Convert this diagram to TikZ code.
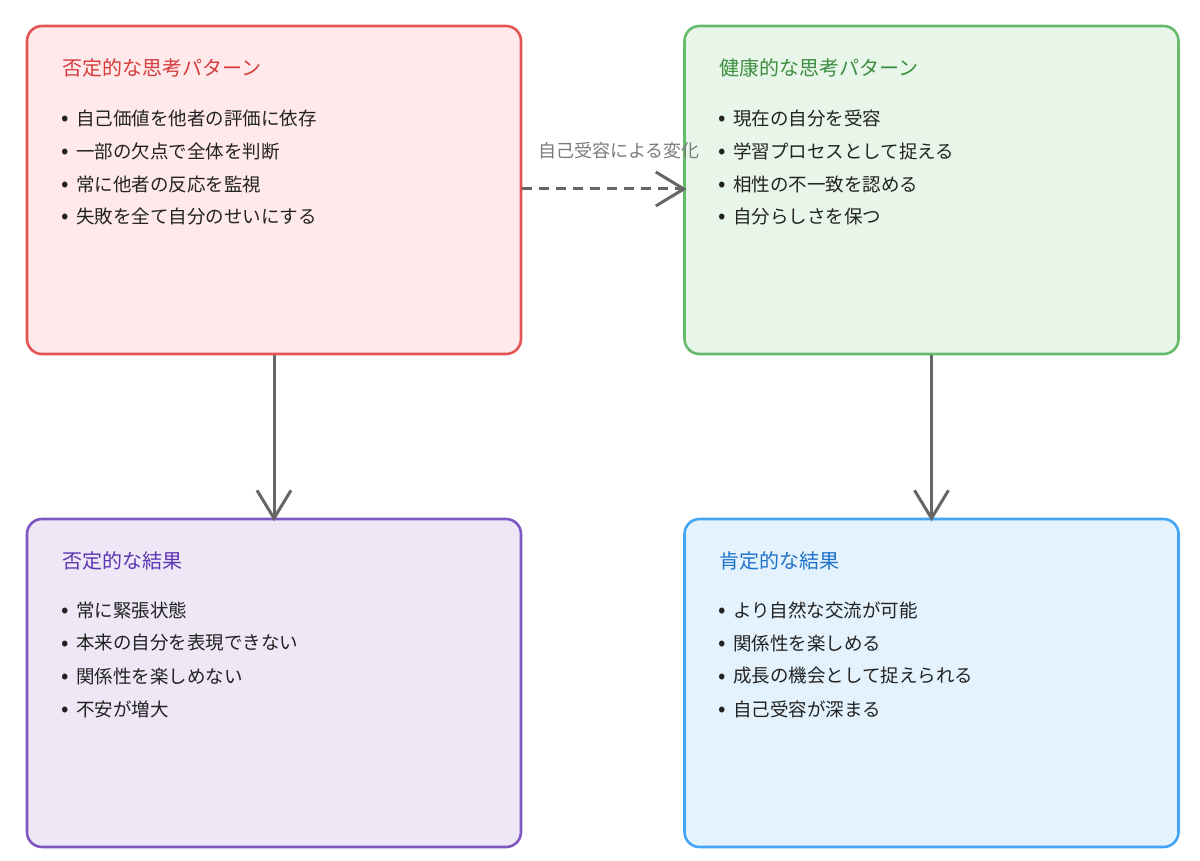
\documentclass[tikz,border=0pt]{standalone}
\usepackage{fontspec}
\setmainfont{Noto Sans CJK JP}
\usetikzlibrary{arrows.meta}
\definecolor{rB}{HTML}{E35555}\definecolor{rF}{HTML}{FFE9EB}\definecolor{rT}{HTML}{D63C3C}
\definecolor{gB}{HTML}{66BB6A}\definecolor{gF}{HTML}{E8F5E9}\definecolor{gT}{HTML}{3E8E41}
\definecolor{pB}{HTML}{7E57C2}\definecolor{pF}{HTML}{EDE7F6}\definecolor{pT}{HTML}{5E35B1}
\definecolor{bB}{HTML}{42A5F5}\definecolor{bF}{HTML}{E3F2FD}\definecolor{bT}{HTML}{1E72C8}
\definecolor{arr}{HTML}{666666}\definecolor{lbl}{HTML}{7A7A7A}\definecolor{txt}{HTML}{222222}
\tikzset{
  panel/.style={draw=#1B,fill=#1F,line width=2.6pt,rounded corners=15pt,minimum width=494pt,minimum height=328pt,inner sep=0pt},
  ttl/.style={anchor=west,inner sep=0pt,font=\fontsize{20}{24}\selectfont},
  item/.style={anchor=west,inner sep=0pt,text=txt,font=\fontsize{18.5}{22}\selectfont},
  bul/.style={inner sep=0pt,text=txt,font=\fontsize{22}{24}\selectfont},
  conn/.style={draw=arr,line width=3pt,shorten >=-3.5pt,-{Straight Barb[length=28pt,width=34pt,line width=3pt]}},
}
\begin{document}
\begin{tikzpicture}[x=1pt,y=-1pt]
\useasboundingbox (0,0) rectangle (1200,861);
\node[panel=r] (neg) at (274,190) {};
\node[panel=g] (pos) at (931.5,190) {};
\node[panel=p] (negres) at (274,683) {};
\node[panel=b] (posres) at (931.5,683) {};
% titles
\node[ttl,text=rT] (t1) at (62,68) {否定的な思考パターン};
\node[ttl,text=gT] (t2) at (719,68) {健康的な思考パターン};
\node[ttl,text=pT] (t3) at (62,561) {否定的な結果};
\node[ttl,text=bT] (t4) at (719,561) {肯定的な結果};
% items
\foreach \n/\x/\y/\s in {a1/76/118/自己価値を他者の評価に依存, a2/76/151/一部の欠点で全体を判断, a3/76/184/常に他者の反応を監視, a4/76/216/失敗を全て自分のせいにする,
  b1/733/118/現在の自分を受容, b2/733/151/学習プロセスとして捉える, b3/733/184/相性の不一致を認める, b4/733/216/自分らしさを保つ,
  c1/76/610/常に緊張状態, c2/76/643/本来の自分を表現できない, c3/76/676/関係性を楽しめない, c4/76/709/不安が増大,
  d1/733/610/より自然な交流が可能, d2/733/643/関係性を楽しめる, d3/733/676/成長の機会として捉えられる, d4/733/709/自己受容が深まる}
{
  \node[item] (\n) at (\x,\y) {\s};
  \node[bul] (\n b) at (\x-11,\y+3) {•};
}
% connectors
\draw[conn] (neg.south) -- (negres.north);
\draw[conn] (pos.south) -- (posres.north);
\draw[conn,dash pattern=on 10pt off 7pt] (neg.east |- 0,189) -- (pos.west |- 0,189);
\node[inner sep=0pt,text=lbl,font=\fontsize{18}{21}\selectfont] (lab) at (619,151) {自己受容による変化};
\end{tikzpicture}
\end{document}
